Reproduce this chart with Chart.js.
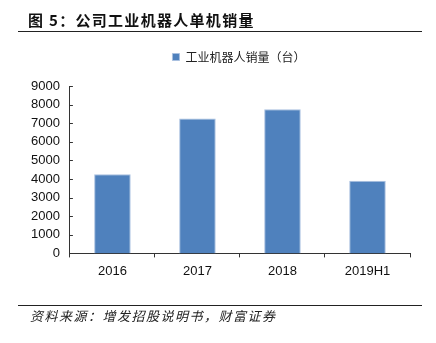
<!DOCTYPE html>
<html>
<head>
<meta charset="utf-8">
<script src="https://cdn.jsdelivr.net/npm/chart.js@4"></script>
<style>
  html, body { margin: 0; padding: 0; background: #fff; }
  body { width: 436px; height: 343px; position: relative; overflow: hidden; }
  #wrap { position: absolute; left: 0; top: 0; width: 436px; height: 343px; }
  .title {
    position: absolute; left: 28px; top: 10px;
    font: bold 15px "Noto Sans CJK SC", sans-serif; letter-spacing: 1.3px;
    color: #111; line-height: 20px; white-space: nowrap;
  }
  .rule { position: absolute; left: 18px; width: 404px; height: 1px; background: #222; }
  .source {
    position: absolute; left: 30px; top: 306px;
    font: italic 13px "Noto Sans CJK SC", sans-serif; letter-spacing: 1.5px;
    color: #222; line-height: 20px; white-space: nowrap;
  }
</style>
</head>
<body>
<div id="wrap"><canvas id="canvas" width="436" height="343"></canvas></div>
<div class="title">图 5：公司工业机器人单机销量</div>
<div class="rule" style="top:31px"></div>
<div class="rule" style="top:305px"></div>
<div class="source">资料来源：增发招股说明书，财富证券</div>
<script>
var years = ['2016', '2017', '2018', '2019H1'];
var sales = [4260, 7250, 7750, 3900];
var yTicks = [0, 1000, 2000, 3000, 4000, 5000, 6000, 7000, 8000, 9000];

// legend sits over the plot area, with some extra room below it
var legendOverPlot = {
    id: 'legendOverPlot',
    afterInit: function (chart) {
        var legend = chart.legend;
        var fit = legend.fit;
        legend.fit = function () {
            fit.call(this);
            this.height += 13;
        };
    },
    afterLayout: function (chart) {
        chart.legend.left = chart.chartArea.left - 1;
        chart.legend.right = chart.chartArea.right - 1;
    }
};

// short tick marks pointing into the plot on the value axis
var innerTicks = {
    id: 'innerTicks',
    afterDraw: function (chart) {
        var ctx = chart.ctx;
        var y = chart.scales.y;
        var x0 = chart.chartArea.left;
        ctx.save();
        ctx.strokeStyle = '#333';
        ctx.lineWidth = 1;
        yTicks.forEach(function (v) {
            var py = Math.round(y.getPixelForValue(v)) + 0.5;
            ctx.beginPath();
            ctx.moveTo(x0, py);
            ctx.lineTo(x0 + 3, py);
            ctx.stroke();
        });
        ctx.restore();
    }
};

window.onload = function () {
    var ctx = document.getElementById('canvas').getContext('2d');
    window.myBar = new Chart(ctx, {
        type: 'bar',
        data: {
            labels: years,
            datasets: [{
                label: '工业机器人销量（台）',
                backgroundColor: '#4F81BD',
                borderColor: '#A9C0E0',
                borderWidth: 1,
                data: sales,
                categoryPercentage: 1,
                barPercentage: 0.43
            }]
        },
        options: {
            responsive: false,
            animation: false,
            layout: { padding: { top: 41, left: 21, right: 26, bottom: 58 } },
            plugins: {
                legend: {
                    position: 'top',
                    labels: {
                        boxWidth: 7,
                        boxHeight: 7,
                        padding: 10,
                        color: '#222',
                        font: { family: '"Noto Sans CJK SC", sans-serif', size: 12 }
                    }
                },
                tooltip: { enabled: false }
            },
            scales: {
                x: {
                    grid: { display: true, drawOnChartArea: false, drawTicks: true, tickLength: 4, color: '#333' },
                    border: { display: true, color: '#333', width: 1 },
                    ticks: {
                        color: '#111', padding: 6,
                        font: { family: '"Liberation Sans", Arial, sans-serif', size: 13 }
                    }
                },
                y: {
                    min: 0,
                    max: 9000,
                    grid: { display: false, drawTicks: false },
                    border: { display: true, color: '#333', width: 1 },
                    afterBuildTicks: function (axis) {
                        axis.ticks = yTicks.map(function (v) { return { value: v }; });
                    },
                    ticks: {
                        color: '#111', padding: 10,
                        font: { family: '"Liberation Sans", Arial, sans-serif', size: 13 },
                        callback: function (v) { return String(v); }
                    }
                }
            }
        },
        plugins: [legendOverPlot, innerTicks]
    });
};
</script>
</body>
</html>
